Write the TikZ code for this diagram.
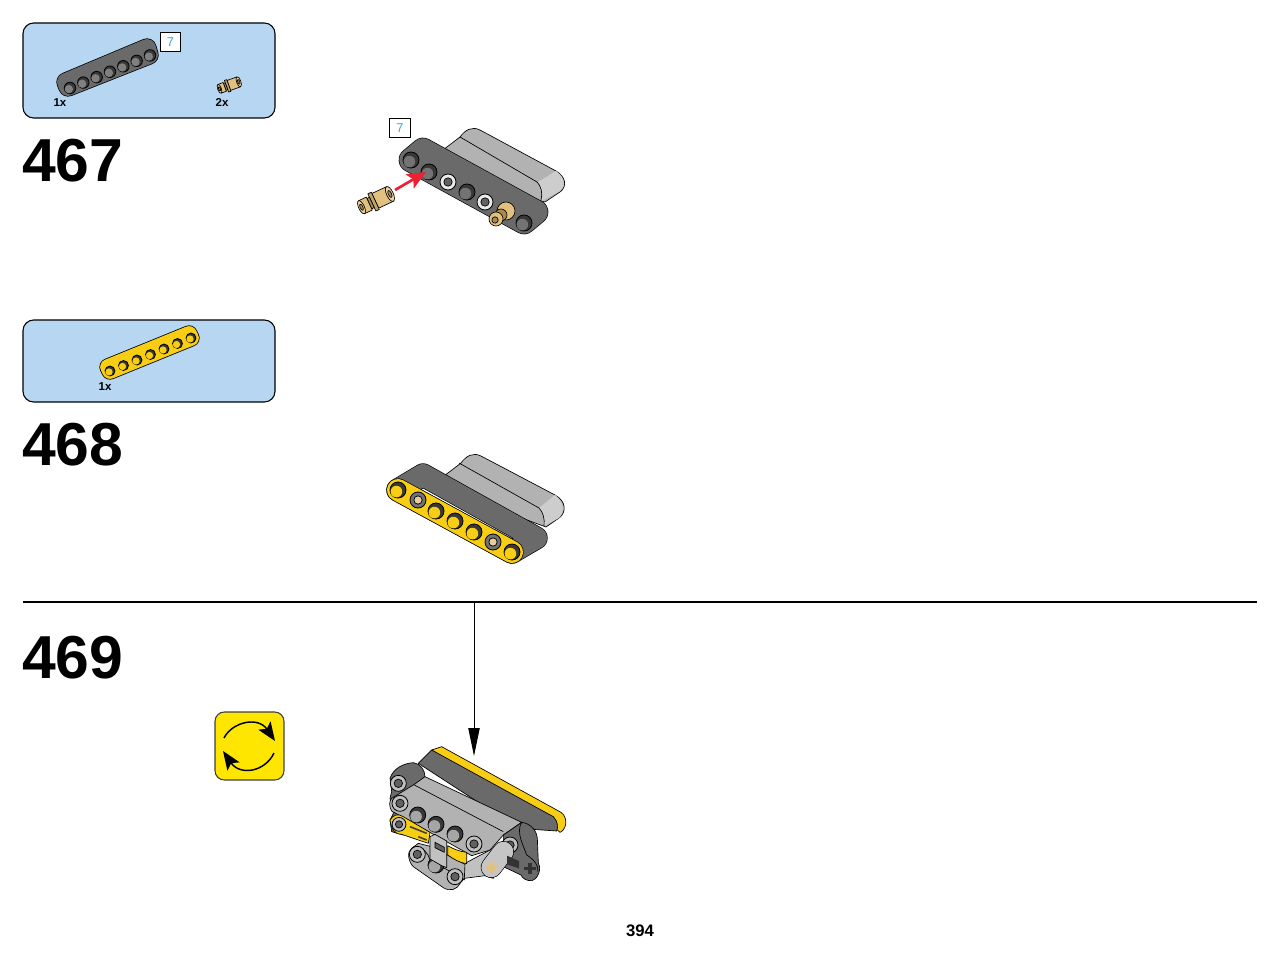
\documentclass[tikz,border=0pt]{standalone}
\usepackage{fontspec}
\setmainfont{Liberation Sans}
\usetikzlibrary{arrows, arrows.meta, positioning}
\definecolor{panelblue}{HTML}{B6D6F2}
\definecolor{stepblue}{HTML}{3BA7D8}
\definecolor{darkbeam}{HTML}{6A6A6A}
\definecolor{lightbeam}{HTML}{B2B2B2}
\definecolor{paleend}{HTML}{CDCDCD}
\definecolor{beamyellow}{HTML}{F8CE14}
\definecolor{signyellow}{HTML}{FFE600}
\definecolor{pintan}{HTML}{E2C07E}
\definecolor{pinshade}{HTML}{A98A4E}
\definecolor{arrowred}{HTML}{EE2033}
\tikzset{
every node/.style={inner sep=1pt},
panel/.style={draw=black, line width=.8pt, fill=panelblue, rounded corners=8pt},
stepnum/.style={font=\fontsize{45.5}{45.5}\bfseries\selectfont, anchor=base west, inner sep=0pt},
count/.style={font=\fontsize{8.6}{8.6}\bfseries\selectfont},
numbox/.style={draw=black, fill=white, line width=.9pt, minimum width=15.5pt, minimum height=14.5pt, inner sep=0pt, text=stepblue, font=\fontsize{9.6}{9.6}\selectfont},
thin edge/.style={draw=black, line width=.5pt, line join=round},
% the hull of a beam: a wide outline first, then the colour on top
hull/.style={line cap=round, line join=round, line width=#1},
pics/openhole/.style={code={
  \draw[black, line width=.6pt, fill=black!78] (0,0) circle (8);
  \fill[#1] (-1.6,1.6) circle (5.8);
}},
pics/pinhole/.style={code={
  \draw[black, line width=.6pt, fill=#1] (0,0) circle (8);
  \draw[black, line width=.5pt, fill=black!62] (0,0) circle (4.2);
}},
pics/tanpin/.style={code={
  \draw[thin edge, fill=pintan] (-2,-8.5) rectangle (15,8.5);
  \draw[thin edge, fill=pintan!70] (15,0) circle[x radius=3.5, y radius=8.5];
  \draw[thin edge, fill=pinshade] (15,0) circle[x radius=1.7, y radius=4];
  \draw[thin edge, fill=pintan!85!black] (-6,-10) rectangle (-2,10);
  \draw[thin edge, fill=pinshade] (-9,-6) rectangle (-6,6);
  \draw[thin edge, fill=pintan] (-18,-7.5) rectangle (-9,7.5);
  \draw[thin edge, fill=pintan!70] (-18,0) circle[x radius=3, y radius=7.5];
  \draw[thin edge, fill=pinshade] (-18,0) circle[x radius=1.5, y radius=3.5];
}},
}

\begin{document}
\begin{tikzpicture}[x=.75pt, y=-.75pt]
  \useasboundingbox (0,0) rectangle (1280,959);

  % parts panels
  \draw[panel] (23,23) rectangle (275,118);
  \draw[panel] (23,320) rectangle (275,402);

  % panel beam, grey
  \draw[hull=14.5pt, black] (68,87) -- (66,82) -- (147,48) -- (149,55) -- cycle;
  \draw[hull=13.4pt, darkbeam] (68,87) -- (66,82) -- (147,48) -- (149,55) -- cycle;
  \foreach \t in {0,1,...,6}
    \pic[scale=.72] at ({70+\t*13.33},{88-\t*5.43}) {openhole=black!50};
  \pic[rotate=20, scale=.62] at (230,85) {tanpin};
  \node[numbox] (boxa) at (170.5,42) {7};
  \node[count] (counta) at (60,102.5) {1x};
  \node[count] (countb) at (222,102.5) {2x};

  % panel beam, yellow
  \draw[hull=13pt, black] (110,371) -- (108,367) -- (189,334) -- (191,338) -- cycle;
  \draw[hull=11.8pt, beamyellow] (110,371) -- (108,367) -- (189,334) -- (191,338) -- cycle;
  \foreach \t in {0,1,...,6}
    \pic[scale=.62] at ({110+\t*13.5},{371-\t*5.5}) {openhole=beamyellow};
  \node[count] (countc) at (105,387) {1x};

  % step numbers
  \node[stepnum] (stepa) at (22,182) {467};
  \node[stepnum] (stepb) at (22,465) {468};
  \node[stepnum] (stepc) at (22,678) {469};

  % step 467
  \draw[thin edge, fill=lightbeam] (443,150) -- (460,137) .. controls (465,130) and (472,126) .. (480,130) -- (556,171) .. controls (565,176) and (568,186) .. (560,192) -- (545,202) -- (500,190) -- cycle;
  \draw[draw=none, fill=paleend] (538,182) .. controls (541,186) and (543,193) .. (542,201) -- (560,191) .. controls (566,186) and (565,178) .. (556,171) -- cycle;
  \draw[thin edge] (460,137) -- (537,182) .. controls (541,186) and (543,193) .. (541,200);
  \draw[hull=18.5pt, black] (411,160) -- (423,150) -- (536,212) -- (524,222) -- cycle;
  \draw[hull=17.5pt, darkbeam] (411,160) -- (423,150) -- (536,212) -- (524,222) -- cycle;
  \foreach \x/\y in {411/160,429/172,467/192,524/223}
    \pic at (\x,\y) {openhole=black!55};
  \foreach \x/\y in {448/182,485/202}
    \pic at (\x,\y) {pinhole=black!8};
  \draw[thin edge, fill=pintan] (506,211) circle (9);
  \draw[thin edge, fill=pinshade] (501,215) circle (6);
  \draw[thin edge, fill=pintan] (496,219) circle (7);
  \draw[thin edge, fill=pinshade] (495,220) circle (3.2);
  \pic[rotate=25, scale=.95] at (377,200) {tanpin};
  \node[numbox] (boxb) at (400,128) {7};
  \coordinate (pinout) at (395,190);
  \coordinate (pinin) at (426,172);
  \draw[-{Stealth[length=14pt, width=12pt, inset=3pt]}, arrowred, line width=2pt] (pinout) -- (pinin);

  % step 468
  \draw[thin edge, fill=lightbeam] (444,476) -- (461,463) .. controls (466,456) and (473,452) .. (481,456) -- (555,495) .. controls (566,501) and (567,512) .. (559,518) -- (546,527) -- (500,510) -- cycle;
  \draw[draw=none, fill=paleend] (539,508) .. controls (543,512) and (545,519) .. (544,526) -- (559,518) .. controls (565,512) and (564,502) .. (555,495) -- cycle;
  \draw[thin edge] (459,463) -- (539,508) .. controls (543,512) and (545,519) .. (544,526);
  \draw[hull=17.5pt, black] (398,490) -- (423,475) -- (536,538) -- (512,552) -- cycle;
  \draw[hull=16.5pt, darkbeam] (398,490) -- (423,475) -- (536,538) -- (512,552) -- cycle;
  \draw[hull=17.5pt, black] (398,490) -- (512,552);
  \draw[hull=16.5pt, beamyellow] (398,490) -- (512,552);
  \foreach \x/\y in {398/490,436/511,455/521,474/532,512/552}
    \pic at (\x,\y) {openhole=beamyellow};
  \foreach \x/\y in {418/500,493/542}{
    \pic at (\x,\y) {pinhole=black!55};
    \draw[draw=none, fill=pintan!80] (\x,\y) circle (3.5);
  }

  % rule and arrow
  \coordinate (rulea) at (23,602);
  \coordinate (ruleb) at (1257,602);
  \coordinate (drop) at (474,602);
  \coordinate (seat) at (474,756);
  \draw[line width=.9pt] (rulea) -- (ruleb);
  \draw[-{Stealth[length=21pt, width=8.5pt, inset=0pt]}, line width=.75pt] (drop) -- (seat);

  % rotate sign
  \draw[draw=black!75, fill=signyellow, line width=.8pt, rounded corners=7pt] (215,712) rectangle (284,780);
  \coordinate (topa) at (224,738);
  \coordinate (topb) at (275,741);
  \coordinate (bota) at (274,753);
  \coordinate (botb) at (223,751);
  \draw[-{Stealth[length=14pt, width=11pt, inset=3pt]}, line width=1.1pt] (topa) .. controls (232,722) and (258,716) .. (topb);
  \draw[-{Stealth[length=14pt, width=11pt, inset=3pt]}, line width=1.1pt] (bota) .. controls (265,772) and (240,776) .. (botb);

  % step 469, drawn in the units of a 3x view
  \begin{scope}[shift={(375,735)}, x=.25pt, y=-.25pt]
    \draw[thin edge, fill=beamyellow] (170,45) -- (200,35) -- (558,232) .. controls (570,240) and (574,255) .. (572,268) .. controls (570,280) and (562,290) .. (555,292) -- (520,260) -- cycle;
    \draw[thin edge, fill=darkbeam] (130,85) -- (170,45) -- (535,245) .. controls (548,258) and (550,275) .. (545,288) -- (430,280) -- cycle;
    % dark end and column at the left
    \draw[thin edge, fill=darkbeam] (45,130) .. controls (55,100) and (85,85) .. (115,83) .. controls (135,85) and (150,105) .. (150,125) -- (120,150) -- (75,190) -- (85,300) -- (50,290) -- (45,255) -- (55,235) -- (45,190) -- (50,170) -- cycle;
    \pic[scale=3] at (70,145) {pinhole=black!25};
    % light beam
    \draw[thin edge, fill=lightbeam] (50,190) -- (118,148) -- (150,125) -- (440,262) -- (385,300) -- (345,345) -- (290,362) -- (50,228) .. controls (42,215) and (42,198) .. (50,190) -- cycle;
    \draw[thin edge] (118,150) -- (385,290);
    \pic[scale=3] at (75,205) {pinhole=black!25};
    \foreach \x/\y in {128/240,183/268,240/297}
      \pic[scale=3] at (\x,\y) {openhole=black!35};
    \pic[scale=3] at (297,327) {pinhole=black!25};
    % lower beam
    \draw[thin edge, fill=lightbeam] (130,325) -- (170,335) -- (330,420) -- (300,395) -- (255,445) .. controls (245,465) and (225,470) .. (205,458) -- (115,395) .. controls (100,380) and (95,350) .. (110,340) -- cycle;
    \draw[thin edge, fill=lightbeam!80] (270,385) -- (345,345) -- (385,345) -- (355,430) -- (330,422) -- (268,430) -- cycle;
    \draw[thin edge] (115,335) .. controls (145,335) and (160,355) .. (165,375) -- (270,435);
    \foreach \x/\y in {127/358,240/425}
      \pic[scale=3] at (\x,\y) {pinhole=black!25};
    \pic[scale=3] at (183,390) {openhole=black!35};
    % yellow arm
    \draw[thin edge, fill=beamyellow] (45,255) .. controls (55,238) and (70,235) .. (85,245) -- (165,292) -- (160,325) -- (80,298) .. controls (60,300) and (48,280) .. (45,255) -- cycle;
    \draw[line width=1.2pt, black!75] (105,275) -- (155,295);
    \draw[line width=1.2pt, black!75] (130,305) -- (155,315);
    \pic[scale=2.6] at (72,268) {pinhole=black!25};
    % centre connector
    \draw[thin edge, fill=lightbeam!80] (165,305) -- (180,298) -- (215,318) -- (215,398) -- (200,392) -- (165,372) -- cycle;
    \draw[thin edge, fill=black!62] (180,322) -- (208,337) -- (208,352) -- (180,338) -- cycle;
    \draw[thin edge, fill=beamyellow] (218,332) .. controls (235,342) and (255,350) .. (275,352) -- (275,386) .. controls (255,384) and (235,372) .. (218,360) -- cycle;
    % right bracket
    \draw[thin edge, fill=darkbeam] (385,300) -- (440,262) .. controls (465,265) and (485,285) .. (487,310) -- (490,385) .. controls (500,400) and (490,432) .. (470,437) .. controls (455,438) and (442,430) .. (438,420) -- (385,395) -- cycle;
    \draw[thin edge] (440,262) .. controls (422,292) and (445,330) .. (455,360) .. controls (480,375) and (492,395) .. (488,410);
    \pic[scale=3] at (405,330) {pinhole=black!25};
    % tan cross connector
    \draw[hull=16pt, black] (349,397) -- (385,350);
    \draw[hull=15pt, lightbeam!75] (349,397) -- (385,350);
    \draw[line width=2.6pt, pintan] (332,397) -- (366,397);
    \draw[line width=2.6pt, pintan] (349,380) -- (349,414);
    \fill[black!80] (396,362) -- (432,378) -- (432,400) -- (396,388) -- cycle;
    \draw[line width=2.6pt, black!80] (448,400) -- (482,400);
    \draw[line width=2.6pt, black!80] (465,383) -- (465,417);
  \end{scope}

  % page number
  \node[font=\fontsize{12.5}{12.5}\bfseries\selectfont] (page) at (640,931) {394};
\end{tikzpicture}
\end{document}
